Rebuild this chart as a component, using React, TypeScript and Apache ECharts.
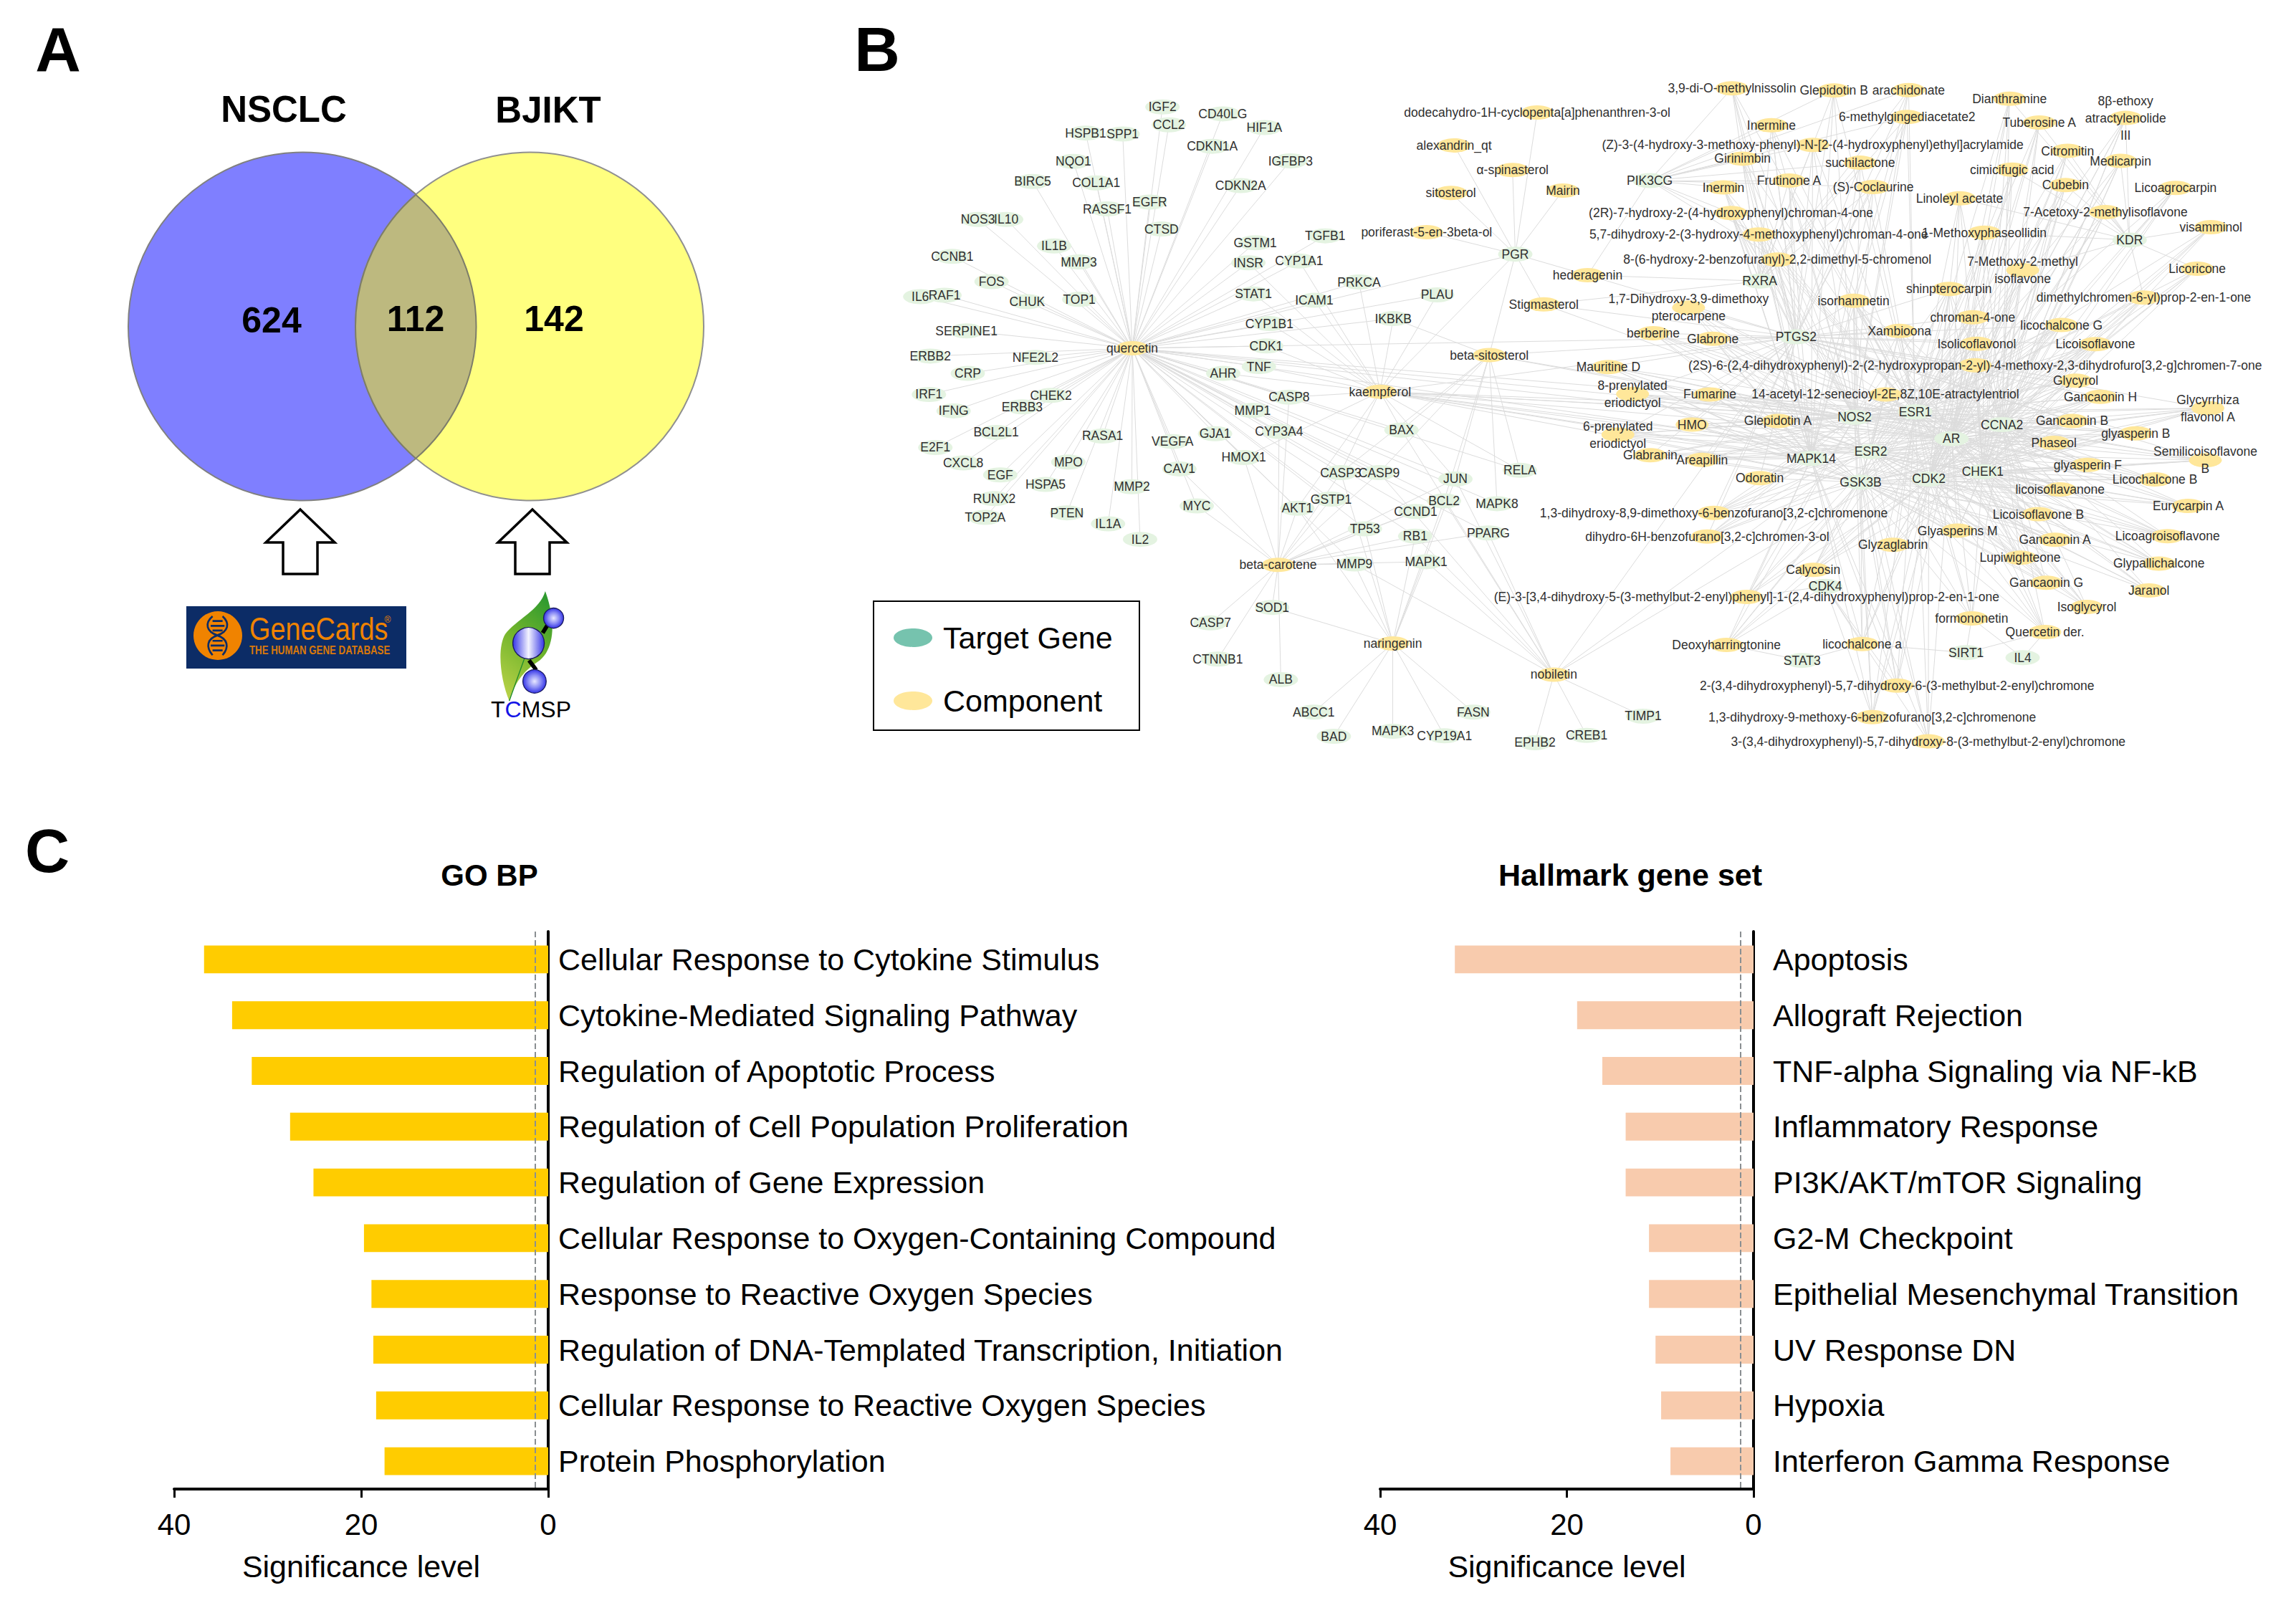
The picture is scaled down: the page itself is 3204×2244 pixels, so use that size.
import React, { useEffect, useRef } from "react";
import * as echarts from "echarts";

// ---------- Panel A ----------
const vennSets = ["NSCLC", "BJIKT"];
const vennCounts = [624, 112, 142];

// ---------- Panel C ----------
const goTerms = [
  "Cellular Response to Cytokine Stimulus",
  "Cytokine-Mediated Signaling Pathway",
  "Regulation of Apoptotic Process",
  "Regulation of Cell Population Proliferation",
  "Regulation of Gene Expression",
  "Cellular Response to Oxygen-Containing Compound",
  "Response to Reactive Oxygen Species",
  "Regulation of DNA-Templated Transcription, Initiation",
  "Cellular Response to Reactive Oxygen Species",
  "Protein Phosphorylation",
];
const goValues = [36.8, 33.8, 31.7, 27.6, 25.1, 19.7, 18.9, 18.7, 18.4, 17.5];
const hallmarkTerms = [
  "Apoptosis",
  "Allograft Rejection",
  "TNF-alpha Signaling via NF-kB",
  "Inflammatory Response",
  "PI3K/AKT/mTOR Signaling",
  "G2-M Checkpoint",
  "Epithelial Mesenchymal Transition",
  "UV Response DN",
  "Hypoxia",
  "Interferon Gamma Response",
];
const hallmarkValues = [32.0, 18.9, 16.2, 13.7, 13.7, 11.2, 11.2, 10.5, 9.9, 8.9];
const significanceCutoff = 1.4;

// ---------- Panel B: target genes ----------
const ringGenes = ["IGF2","CCL2","CD40LG","HIF1A","HSPB1","SPP1","CDKN1A","NQO1","IGFBP3","BIRC5","COL1A1","CDKN2A","RASSF1","EGFR","NOS3","IL10","CTSD","IL1B","CCNB1","MMP3","FOS","IL6","RAF1","CHUK","TOP1","SERPINE1","NFE2L2","ERBB2","CRP","IRF1","IFNG","CHEK2","ERBB3","BCL2L1","E2F1","RASA1","VEGFA","CXCL8","MPO","EGF","HSPA5","MMP2","CAV1","RUNX2","TOP2A","PTEN","IL1A","MYC","IL2"];
const ringGeneAnchors = [[662,93],[676,132],[794,108],[885,138],[494,150],[575,152],[771,179],[467,212],[942,211],[378,256],[517,259],[833,265],[541,316],[634,301],[258,339],[320,339],[660,360],[425,397],[202,420],[479,432],[288,475],[132,508],[185,505],[366,519],[480,514],[233,583],[384,641],[154,638],[236,676],[151,722],[205,758],[418,724],[355,749],[298,805],[165,838],[531,813],[684,825],[226,872],[456,870],[307,898],[406,919],[595,924],[699,885],[294,950],[274,991],[453,981],[543,1005],[737,966],[613,1039]];
const centerGenes = ["GSTM1","TGFB1","INSR","CYP1A1","PRKCA","STAT1","ICAM1","PLAU","IKBKB","CYP1B1","CDK1","AHR","TNF","CASP8","MMP1","GJA1","CYP3A4","BAX","HMOX1","CASP3","CASP9","JUN","RELA","AKT1","GSTP1","BCL2","MAPK8","CCND1","TP53","RB1","PPARG","MMP9","MAPK1","SOD1","CASP7","CTNNB1","ALB","ABCC1","FASN","BAD","MAPK3","CYP19A1","EPHB2","PGR"];
const centerGeneAnchors = [[865,390],[1018,375],[850,434],[961,430],[1092,476],[861,502],[994,516],[1263,504],[1167,556],[896,567],[889,616],[795,676],[873,661],[939,728],[859,757],[777,808],[917,803],[1185,800],[840,860],[1052,893],[1136,893],[1303,907],[1444,888],[957,971],[1031,951],[1278,955],[1394,961],[1216,978],[1105,1016],[1215,1032],[1375,1025],[1082,1093],[1239,1088],[902,1188],[767,1222],[783,1301],[921,1346],[993,1417],[1342,1417],[1037,1470],[1166,1459],[1279,1469],[1477,1484],[1434,415]];
const hubGenes = ["PIK3CG","KDR","RXRA","PTGS2","NOS2","ESR1","CCNA2","AR","ESR2","MAPK14","CHEK1","CDK2","GSK3B","CDK4","STAT3","SIRT1","IL4","TIMP1","CREB1"];
const hubGeneAnchors = [[287,254],[1238,384],[505,474],[577,596],[693,772],[813,760],[985,788],[885,819],[725,847],[607,862],[947,891],[840,907],[705,914],[635,1142],[589,1304],[914,1287],[1026,1298],[274,1426],[162,1468]];

// ---------- Panel B: components ----------
const leftComponents = ["quercetin","kaempferol","beta-carotene","naringenin","beta-sitosterol","poriferast-5-en-3beta-ol","sitosterol","alexandrin_qt","α-spinasterol"];
const leftComponentAnchors = [[596,621],[1138,716],[915,1095],[1166,1267],[1377,636],[1240,367],[1293,281],[1300,177],[1428,231]];
const steroidComponents = ["dodecahydro-1H-cyclopenta[a]phenanthren-3-ol","Mairin","Stigmasterol","hederagenin","nobiletin"];
const steroidComponentAnchors = [[64,105],[115,276],[77,525],[164,461],[97,1335]];
const upperLeftComponents = ["3,9-di-O-methylnissolin","Glepidotin B","arachidonate","6-methylgingediacetate2","Inermine","(Z)-3-(4-hydroxy-3-methoxy-phenyl)-N-[2-(4-hydroxyphenyl)ethyl]acrylamide","Girinimbin","suchilactone","Inermin","Frutinone A","(S)-Coclaurine","(2R)-7-hydroxy-2-(4-hydroxyphenyl)chroman-4-one","5,7-dihydroxy-2-(3-hydroxy-4-methoxyphenyl)chroman-4-one","8-(6-hydroxy-2-benzofuranyl)-2,2-dimethyl-5-chromenol"];
const upperLeftAnchors = [[450,52],[652,57],[800,56],[797,115],[528,133],[610,176],[471,206],[704,215],[433,269],[563,254],[730,268],[448,325],[503,372],[540,427]];
const upperRightComponents = ["Dianthramine","8β-ethoxy\natractylenolide\nIII","Tuberosine A","Citromitin","Medicarpin","cimicifugic acid","Cubebin","Licoagrocarpin","Linoleyl acetate","7-Acetoxy-2-methylisoflavone","visamminol","1-Methoxyphaseollidin","7-Methoxy-2-methyl\nisoflavone","Licoricone","dimethylchromen-6-yl)prop-2-en-1-one"];
const upperRightAnchors = [[1000,75],[1230,117],[1059,127],[1115,189],[1220,211],[1005,230],[1111,264],[1329,270],[901,293],[1190,323],[1399,356],[950,368],[1026,450],[1372,447],[1266,510]];
const middleComponents = ["shinpterocarpin","isorhamnetin","chroman-4-one","licochalcone G","Xambioona","Isolicoflavonol","Licoisoflavone","(2S)-6-(2,4-dihydroxyphenyl)-2-(2-hydroxypropan-2-yl)-4-methoxy-2,3-dihydrofuro[3,2-g]chromen-7-one","Glycyrol","14-acetyl-12-senecioyl-2E,8Z,10E-atractylentriol","Gancaonin H","Glycyrrhiza\nflavonol A","Gancaonin B","glyasperin B","Phaseol","Semilicoisoflavone\nB","glyasperin F"];
const middleAnchors = [[880,491],[691,517],[927,553],[1103,570],[782,583],[935,611],[1170,612],[932,658],[1131,692],[754,722],[1180,727],[1393,752],[1124,780],[1250,807],[1088,828],[1388,866],[1155,876]];
const westComponents = ["1,7-Dihydroxy-3,9-dimethoxy\npterocarpene","berberine","Glabrone","Mauritine D","8-prenylated\neriodictyol","Fumarine","HMO","Glepidotin A","6-prenylated\neriodictyol","Glabranin","Areapillin","Odoratin","1,3-dihydroxy-8,9-dimethoxy-6-benzofurano[3,2-c]chromenone","dihydro-6H-benzofurano[3,2-c]chromen-3-ol"];
const westAnchors = [[364,532],[294,588],[412,600],[205,662],[253,721],[406,722],[371,788],[541,780],[224,810],[288,855],[391,865],[505,905],[414,981],[401,1033]];
const southEastComponents = ["Licochalcone B","licoisoflavanone","Eurycarpin A","Licoisoflavone B","Glyasperins M","Licoagroisoflavone","Glyzaglabrin","Gancaonin A","Lupiwighteone","Glypallichalcone","Calycosin","Jaranol","Gancaonin G","Isoglycyrol","formononetin","Quercetin der."];
const southEastAnchors = [[1288,908],[1100,930],[1354,966],[1057,984],[897,1020],[1313,1032],[769,1051],[1090,1040],[1021,1079],[1296,1092],[611,1106],[1276,1151],[1073,1134],[1153,1187],[925,1212],[1070,1242]];
const southComponents = ["(E)-3-[3,4-dihydroxy-5-(3-methylbut-2-enyl)phenyl]-1-(2,4-dihydroxyphenyl)prop-2-en-1-one","Deoxyharringtonine","licochalcone a","2-(3,4-dihydroxyphenyl)-5,7-dihydroxy-6-(3-methylbut-2-enyl)chromone","1,3-dihydroxy-9-methoxy-6-benzofurano[3,2-c]chromenone","3-(3,4-dihydroxyphenyl)-5,7-dihydroxy-8-(3-methylbut-2-enyl)chromone"];
const southAnchors = [[479,1165],[439,1270],[708,1268],[777,1359],[728,1428],[839,1481]];

const quercetinExtraTargets = ["GSTM1","INSR","CYP1A1","STAT1","ICAM1","CYP1B1","CDK1","AHR","TNF","CASP8","MMP1","GJA1","CYP3A4","HMOX1","BAX","CASP3","CASP9","JUN","RELA","AKT1","GSTP1","BCL2","PLAU","PRKCA","TGFB1","IKBKB","CCND1","PPARG","MAPK8","TP53","RB1","MMP9","AR","PTGS2","ESR1","NOS2","PGR","CHEK1"];
const kaempferolTargets = ["PGR","PLAU","IKBKB","PRKCA","ICAM1","STAT1","CYP1A1","INSR","CYP1B1","CDK1","TNF","AHR","CASP8","BAX","HMOX1","CASP3","AKT1","RELA","JUN","PTGS2","AR","NOS2","ESR1","ESR2","MAPK14","GSK3B","CDK2","CHEK1","CCNA2"];
const caroteneTargets = ["AKT1","GSTP1","SOD1","CASP7","CTNNB1","ALB","HMOX1","CAV1","MYC","CYP3A4","CASP8","TP53","JUN","BCL2","CCND1","CASP3","CASP9","PPARG","MAPK1","RB1","MMP9"];
const naringeninTargets = ["SOD1","ABCC1","BAD","MAPK3","CYP19A1","FASN","MAPK1","RB1","AKT1","BCL2","JUN","MMP9","CASP3","TP53"];
const nobiletinTargets = ["EPHB2","CREB1","TIMP1","PPARG","BCL2","JUN","CASP9","MMP9","BAX","RB1","MAPK1","PTGS2","AR","ESR1"];
const sitosterolTargets = ["PGR","BCL2","CASP9","CASP3","MAPK8","IKBKB","PTGS2","NOS2","AR","RELA","BAX","JUN"];
const pgrSources = ["poriferast-5-en-3beta-ol","sitosterol","alexandrin_qt","α-spinasterol","dodecahydro-1H-cyclopenta[a]phenanthren-3-ol","Mairin","Stigmasterol","hederagenin"];
const stigmasterolTargets = ["PTGS2","RXRA","NOS2"];
const hederageninTargets = ["PTGS2","RXRA","PIK3CG"];
const upperLeftTargets = ["PTGS2","RXRA","PIK3CG","NOS2","ESR1","MAPK14"];
const upperRightTargets = ["KDR","AR","CDK2","CCNA2","ESR1","CHEK1"];
const middleTargets = ["AR","CDK2","CCNA2","ESR1","NOS2","CHEK1","GSK3B","PTGS2","ESR2"];
const westTargets = ["PTGS2","NOS2","ESR1","AR","ESR2","MAPK14","GSK3B"];
const southEastTargets = ["AR","CDK2","CHEK1","CCNA2","GSK3B","ESR2","ESR1"];
const southTargets = ["CDK2","AR","GSK3B","CDK4","ESR1","NOS2","MAPK14"];
const sirtuinSources = ["formononetin","licochalcone a","Quercetin der."];
const il4Sources = ["formononetin","Quercetin der."];
const stat3Sources = ["licochalcone a","Deoxyharringtonine"];

// ---------- page geometry and frames ----------
const WIDTH = 3204;
const HEIGHT = 2244;
const FONT = "Liberation Sans";
const leftFrame = (p: number[]) => [1200 + p[0] / 1.568, 90 + p[1] / 1.568];
const rightFrame = (p: number[]) => [2100 + p[0] / 1.42, 90 + p[1] / 1.568];

echarts.graphic.registerShape(
  "vennLens",
  echarts.graphic.extendPath("M580.25 271.7A243 243 0 0 1 580.25 639.7A243 243 0 0 1 580.25 271.7Z", {})
);
echarts.graphic.registerShape(
  "tcmspLeaf",
  echarts.graphic.extendPath("M273 30C250 110 150 150 105 210C70 270 85 400 122 490C150 400 190 360 250 320C310 270 320 160 273 30Z", {})
);
echarts.graphic.registerShape(
  "dnaHelix",
  echarts.graphic.extendPath("M140 75C105 105 115 140 160 155C205 170 210 205 182 238M182 75C215 105 205 140 160 155C115 170 112 205 140 238M140 95H182M132 115H190M140 135H182M140 178H182M132 198H190M140 218H182", {})
);

function makeNodes() {
  const nodes: any[] = [];
  const add = (names: string[], anchors: number[][], frame: (p: number[]) => number[], category: number) => {
    names.forEach((name, i) => {
      const [x, y] = frame(anchors[i]);
      nodes.push({ name, value: [x, y], category, symbolSize: category === 0 ? [48, 21] : [46, 20] });
    });
  };
  add(ringGenes, ringGeneAnchors, leftFrame, 0);
  add(centerGenes, centerGeneAnchors, leftFrame, 0);
  add(hubGenes, hubGeneAnchors, rightFrame, 0);
  add(leftComponents, leftComponentAnchors, leftFrame, 1);
  add(steroidComponents, steroidComponentAnchors, rightFrame, 1);
  add(upperLeftComponents, upperLeftAnchors, rightFrame, 1);
  add(upperRightComponents, upperRightAnchors, rightFrame, 1);
  add(middleComponents, middleAnchors, rightFrame, 1);
  add(westComponents, westAnchors, rightFrame, 1);
  add(southEastComponents, southEastAnchors, rightFrame, 1);
  add(southComponents, southAnchors, rightFrame, 1);
  return nodes;
}

function makeLinks(nodes: any[]) {
  const known = new Set(nodes.map((n) => n.name));
  const seen = new Set<string>();
  const links: any[] = [];
  const wire = (sources: string[], targets: string[]) => {
    sources.forEach((source) =>
      targets.forEach((target) => {
        const key = source + "|" + target;
        if (known.has(source) && known.has(target) && !seen.has(key)) {
          seen.add(key);
          links.push({ source, target });
        }
      })
    );
  };
  wire(["quercetin"], ringGenes);
  wire(["quercetin"], quercetinExtraTargets);
  wire(["kaempferol"], kaempferolTargets);
  wire(["beta-carotene"], caroteneTargets);
  wire(["naringenin"], naringeninTargets);
  wire(["nobiletin"], nobiletinTargets);
  wire(["beta-sitosterol"], sitosterolTargets);
  wire(pgrSources, ["PGR"]);
  wire(["Stigmasterol"], stigmasterolTargets);
  wire(["hederagenin"], hederageninTargets);
  wire(upperLeftComponents, upperLeftTargets);
  wire(upperRightComponents, upperRightTargets);
  wire(middleComponents, middleTargets);
  wire(westComponents, westTargets);
  wire(southEastComponents, southEastTargets);
  wire(southComponents, southTargets);
  wire(sirtuinSources, ["SIRT1"]);
  wire(il4Sources, ["IL4"]);
  wire(stat3Sources, ["STAT3"]);
  return links;
}

const txt = (text: string, x: number, y: number, size: number, opts: any = {}) => ({
  type: "text",
  x,
  y,
  scaleX: opts.scaleX,
  z: 20,
  style: {
    text,
    x: 0,
    y: 0,
    fill: opts.fill || "#000",
    font: `${opts.bold ? "bold " : ""}${size}px "${FONT}"`,
    textAlign: opts.align || "center",
    textVerticalAlign: "middle",
  },
});

const arrow = (cx: number) => ({
  type: "polygon",
  z: 10,
  shape: {
    points: [[cx, 711], [cx + 48, 757], [cx + 24, 757], [cx + 24, 801], [cx - 24, 801], [cx - 24, 757], [cx - 48, 757]],
  },
  style: { fill: "#fff", stroke: "#000", lineWidth: 3.5 },
});

const ball = (cx: number, cy: number, r: number, fill: any) => ({
  type: "circle",
  z: 12,
  x: 670,
  y: 815,
  scaleX: 1 / 3,
  scaleY: 1 / 3,
  shape: { cx, cy, r },
  style: { fill, stroke: "#1a1a60", lineWidth: 4 },
});

const bond = (x1: number, y1: number, x2: number, y2: number) => ({
  type: "line",
  z: 11,
  x: 670,
  y: 815,
  scaleX: 1 / 3,
  scaleY: 1 / 3,
  shape: { x1, y1, x2, y2 },
  style: { stroke: "#000", lineWidth: 17 },
});

function buildGraphics() {
  const sphere = () =>
    new echarts.graphic.RadialGradient(0.5, 0.5, 0.5, [
      { offset: 0, color: "#e8e8ff" },
      { offset: 0.55, color: "#8a8cf5" },
      { offset: 1, color: "#3535e6" },
    ]);
  return [
    txt("A", 81, 68, 88, { bold: true }),
    txt("B", 1224, 68, 88, { bold: true }),
    txt("C", 66, 1187, 86, { bold: true }),
    // Venn
    { type: "circle", z: 5, shape: { cx: 422, cy: 455.5, r: 243 }, style: { fill: "#7f7fff", stroke: "#808080", lineWidth: 2 } },
    { type: "circle", z: 6, shape: { cx: 739, cy: 455.5, r: 243 }, style: { fill: "#ffff7f", stroke: "#909090", lineWidth: 2 } },
    { type: "vennLens", z: 7, style: { fill: "#bdb97f", stroke: "#7d7d6a", lineWidth: 2 } },
    txt(vennSets[0], 396, 152, 51, { bold: true }),
    txt(vennSets[1], 765, 153, 51, { bold: true }),
    txt(String(vennCounts[0]), 379, 447, 50, { bold: true }),
    txt(String(vennCounts[1]), 580, 445, 50, { bold: true }),
    txt(String(vennCounts[2]), 773, 445, 50, { bold: true }),
    arrow(419),
    arrow(743),
    // GeneCards badge
    { type: "rect", z: 10, shape: { x: 260, y: 846, width: 307, height: 87 }, style: { fill: "#0c2c66" } },
    { type: "circle", z: 11, shape: { cx: 304, cy: 887, r: 34 }, style: { fill: "#f08300" } },
    { type: "dnaHelix", z: 12, x: 250, y: 835, scaleX: 1 / 3, scaleY: 1 / 3, style: { fill: "none", stroke: "#0c2c66", lineWidth: 8 } },
    txt("GeneCards", 348, 878, 44, { align: "left", fill: "#f08300", scaleX: 0.86 }),
    txt("THE HUMAN GENE DATABASE", 348, 908, 16, { align: "left", bold: true, fill: "#d9780a", scaleX: 0.83 }),
    txt("®", 541, 865, 12, { fill: "#f08300" }),
    // TCMSP badge
    {
      type: "tcmspLeaf",
      z: 10,
      x: 670,
      y: 815,
      scaleX: 1 / 3,
      scaleY: 1 / 3,
      style: {
        fill: new echarts.graphic.LinearGradient(0.7, 0, 0.3, 1, [
          { offset: 0, color: "#2f9a2f" },
          { offset: 0.5, color: "#74b52c" },
          { offset: 1, color: "#b4d046" },
        ]),
      },
    },
    { type: "line", z: 11, x: 670, y: 815, scaleX: 1 / 3, scaleY: 1 / 3, shape: { x1: 122, y1: 490, x2: 190, y2: 300 }, style: { stroke: "#1c8a2c", lineWidth: 4 } },
    bond(262, 205, 290, 160),
    bond(205, 320, 235, 360),
    ball(308, 143, 42, sphere()),
    ball(228, 408, 49, sphere()),
    ball(
      203,
      248,
      66,
      new echarts.graphic.LinearGradient(0, 0, 1, 0, [
        { offset: 0, color: "#3535e6" },
        { offset: 0.5, color: "#f4f4ff" },
        { offset: 1, color: "#3535e6" },
      ])
    ),
    {
      type: "text",
      z: 20,
      x: 741,
      y: 990,
      style: {
        text: "{k|T}{b|C}{k|MSP}",
        x: 0,
        y: 0,
        textAlign: "center",
        textVerticalAlign: "middle",
        rich: {
          k: { fill: "#000", font: `32px "${FONT}"` },
          b: { fill: "#1414e6", font: `32px "${FONT}"` },
        },
      },
    },
    // Network legend
    { type: "rect", z: 10, shape: { x: 1219, y: 839, width: 371, height: 180 }, style: { fill: "#fff", stroke: "#000", lineWidth: 2 } },
    { type: "ellipse", z: 11, shape: { cx: 1274, cy: 890, rx: 27, ry: 13 }, style: { fill: "#76c3ae" } },
    { type: "ellipse", z: 11, shape: { cx: 1274, cy: 978, rx: 27, ry: 13 }, style: { fill: "#ffe79a" } },
    txt("Target Gene", 1316, 890, 43, { align: "left" }),
    txt("Component", 1316, 978, 43, { align: "left" }),
    // Panel titles
    txt("GO BP", 683, 1221, 42, { bold: true }),
    txt("Hallmark gene set", 2275, 1221, 43, { bold: true }),
  ];
}

function xAxisFor(gridIndex: number) {
  return {
    gridIndex,
    type: "value",
    inverse: true,
    min: 0,
    max: 40,
    interval: 20,
    position: "bottom",
    name: "Significance level",
    nameLocation: "middle",
    nameGap: 86,
    nameTextStyle: { fontSize: 43, color: "#000", fontFamily: FONT },
    axisLine: { show: true, onZero: false, lineStyle: { color: "#000", width: 4 } },
    axisTick: { show: true, length: 12, lineStyle: { color: "#000", width: 3 } },
    axisLabel: { show: true, fontSize: 42, color: "#000", fontFamily: FONT, margin: 28 },
    splitLine: { show: false },
  };
}

function yAxisFor(gridIndex: number, data: string[], margin: number) {
  return {
    gridIndex,
    type: "category",
    inverse: true,
    position: "right",
    data,
    axisLine: { show: true, onZero: false, lineStyle: { color: "#000", width: 4 } },
    axisTick: { show: false },
    axisLabel: { show: true, interval: 0, fontSize: 43, color: "#000", fontFamily: FONT, margin, padding: [0, 0, 4, 0] },
    splitLine: { show: false },
  };
}

function barSeries(index: number, name: string, values: number[], color: string) {
  return {
    type: "bar",
    name,
    xAxisIndex: index,
    yAxisIndex: index,
    data: values,
    barWidth: "50%",
    itemStyle: { color },
    silent: true,
    markLine: {
      silent: true,
      symbol: "none",
      label: { show: false },
      lineStyle: { type: "dashed", color: "#8a8f92", width: 2 },
      data: [{ xAxis: significanceCutoff }],
    },
  };
}

export default function App() {
  const ref = useRef<HTMLDivElement>(null);
  useEffect(() => {
    document.body.style.margin = "0";
    document.body.style.background = "#fff";
    const chart = echarts.init(ref.current!, undefined, { renderer: "svg", width: WIDTH, height: HEIGHT });
    const nodes = makeNodes();
    const links = makeLinks(nodes);
    chart.setOption({
      animation: false,
      backgroundColor: "#fff",
      textStyle: { fontFamily: FONT },
      grid: [
        { left: 243, top: 1300, width: 522, height: 778, containLabel: false },
        { left: 1926, top: 1300, width: 521, height: 778, containLabel: false },
        { left: 0, top: 0, width: WIDTH, height: HEIGHT, containLabel: false },
      ],
      xAxis: [
        xAxisFor(0),
        xAxisFor(1),
        { gridIndex: 2, type: "value", min: 0, max: WIDTH, show: false },
      ],
      yAxis: [
        yAxisFor(0, goTerms, 14),
        yAxisFor(1, hallmarkTerms, 27),
        { gridIndex: 2, type: "value", min: 0, max: HEIGHT, inverse: true, show: false },
      ],
      series: [
        {
          type: "graph",
          coordinateSystem: "cartesian2d",
          xAxisIndex: 2,
          yAxisIndex: 2,
          layout: "none",
          roam: false,
          silent: true,
          symbol: "path://M0 1A1 1 0 1 1 2 1A1 1 0 1 1 0 1Z",
          categories: [
            { name: "Target Gene", itemStyle: { color: "#e4f3e1" } },
            { name: "Component", itemStyle: { color: "#ffe79a" } },
          ],
          data: nodes,
          links,
          lineStyle: { color: "#dcdcdc", width: 1, opacity: 1, curveness: 0 },
          label: {
            show: true,
            position: "inside",
            formatter: (p: any) => p.name,
            fontSize: 17.5,
            lineHeight: 24,
            color: "#303030",
            fontFamily: FONT,
          },
          labelLayout: { hideOverlap: false },
        },
        barSeries(0, "GO BP", goValues, "#ffcc00"),
        barSeries(1, "Hallmark gene set", hallmarkValues, "#f8cbad"),
      ],
      graphic: { elements: buildGraphics() },
    });
    return () => chart.dispose();
  }, []);
  return <div ref={ref} style={{ position: "absolute", left: 0, top: 0, width: WIDTH, height: HEIGHT }} />;
}
